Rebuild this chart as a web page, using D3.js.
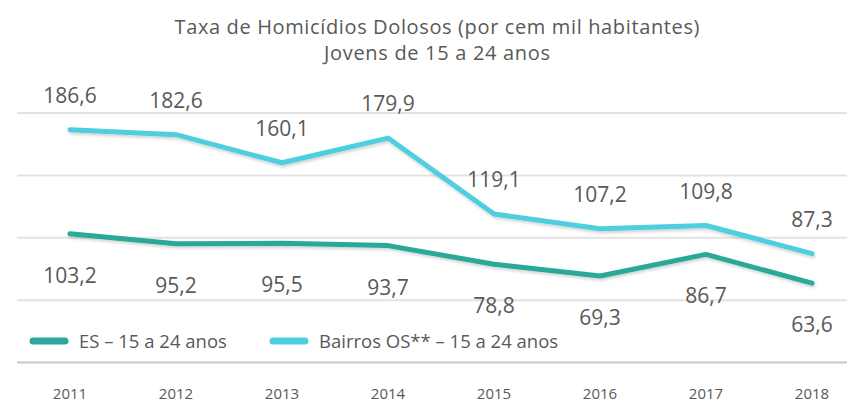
<!DOCTYPE html>
<html>
<head>
<meta charset="utf-8">
<script src="https://cdn.jsdelivr.net/npm/d3@7"></script>
<style>
  body { margin: 0; background: #fff; }
  text { font-family: "Open Sans", sans-serif; fill: #595959; }
</style>
</head>
<body>
<script>
var width = 847;
var height = 404;

var years = ["2011", "2012", "2013", "2014", "2015", "2016", "2017", "2018"];
var esValues = [103.2, 95.2, 95.5, 93.7, 78.8, 69.3, 86.7, 63.6];
var osValues = [186.6, 182.6, 160.1, 179.9, 119.1, 107.2, 109.8, 87.3];
var gridTicks = [50, 100, 150, 200];
var seriesNames = ["ES \u2013 15 a 24 anos", "Bairros OS** \u2013 15 a 24 anos"];
var colors = ["#2ba898", "#4dcfe0"];

var svg = d3.select("body")
    .append("svg")
    .attr("width", width)
    .attr("height", height);

var x = d3.scaleBand()
    .domain(years)
    .range([17, 865]);

var y = d3.scaleLinear()
    .domain([0, 200])
    .range([362.5, 113]);

// gridlines
svg.selectAll(".grid")
    .data(gridTicks)
    .enter()
    .append("line")
    .attr("x1", 17)
    .attr("x2", width)
    .attr("y1", function(d) { return y(d); })
    .attr("y2", function(d) { return y(d); })
    .attr("stroke", "#e3e3e3")
    .attr("stroke-width", 2);

// axis line
svg.append("line")
    .attr("x1", 17)
    .attr("x2", width)
    .attr("y1", y(0))
    .attr("y2", y(0))
    .attr("stroke", "#c8c8c8")
    .attr("stroke-width", 2);

// x tick labels
var xAxis = d3.axisBottom(x).tickSize(0).tickPadding(0);
var ax = svg.append("g")
    .attr("transform", "translate(0,399)")
    .call(xAxis);
ax.select(".domain").remove();
ax.selectAll("text")
    .attr("font-size", "15px")
    .attr("dy", 0)
    .style("fill", "#595959");

// title
svg.append("text")
    .attr("x", 437)
    .attr("y", 34)
    .attr("text-anchor", "middle")
    .attr("font-size", "20px")
    .attr("textLength", 525)
    .text("Taxa de Homicídios Dolosos (por cem mil habitantes)");
svg.append("text")
    .attr("x", 437)
    .attr("y", 60)
    .attr("text-anchor", "middle")
    .attr("font-size", "20px")
    .attr("textLength", 226)
    .text("Jovens de 15 a 24 anos");

var line = d3.line()
    .x(function(d, i) { return x(years[i]) + x.bandwidth() / 2; })
    .y(function(d) { return y(d); });

var filter = svg.append("defs").append("filter")
    .attr("id", "shadow")
    .attr("x", "-10%").attr("y", "-50%")
    .attr("width", "120%").attr("height", "200%");
filter.append("feDropShadow")
    .attr("dx", 1).attr("dy", 2)
    .attr("stdDeviation", 1.5)
    .attr("flood-color", "#000")
    .attr("flood-opacity", 0.18);

[esValues, osValues].forEach(function(vals, k) {
    svg.append("path")
        .datum(vals)
        .attr("d", line)
        .attr("fill", "none")
        .attr("stroke", colors[k])
        .attr("stroke-width", 5)
        .attr("stroke-linejoin", "round")
        .attr("stroke-linecap", "round")
        .attr("filter", "url(#shadow)");
});

// value labels
svg.selectAll(".oslab")
    .data(osValues)
    .enter()
    .append("text")
    .attr("x", function(d, i) { return x(years[i]) + x.bandwidth() / 2; })
    .attr("y", function(d) { return y(d) - 27; })
    .attr("text-anchor", "middle")
    .attr("font-size", "21px")
    .text(function(d) { return d.toFixed(1).replace(".", ","); });

svg.selectAll(".eslab")
    .data(esValues)
    .enter()
    .append("text")
    .attr("x", function(d, i) { return x(years[i]) + x.bandwidth() / 2; })
    .attr("y", function(d) { return y(d) + 49; })
    .attr("text-anchor", "middle")
    .attr("font-size", "21px")
    .text(function(d) { return d.toFixed(1).replace(".", ","); });

// legend
var legendX = [33, 273];
var legend = svg.selectAll(".legend")
    .data(seriesNames)
    .enter()
    .append("g")
    .attr("transform", function(d, i) { return "translate(" + legendX[i] + ",341)"; });
legend.append("line")
    .attr("x1", 0).attr("x2", 32)
    .attr("stroke", function(d, i) { return colors[i]; })
    .attr("stroke-width", 7)
    .attr("stroke-linecap", "round");
legend.append("text")
    .attr("x", 46)
    .attr("y", 7)
    .attr("font-size", "18.5px")
    .text(function(d) { return d; });
</script>
</body>
</html>
